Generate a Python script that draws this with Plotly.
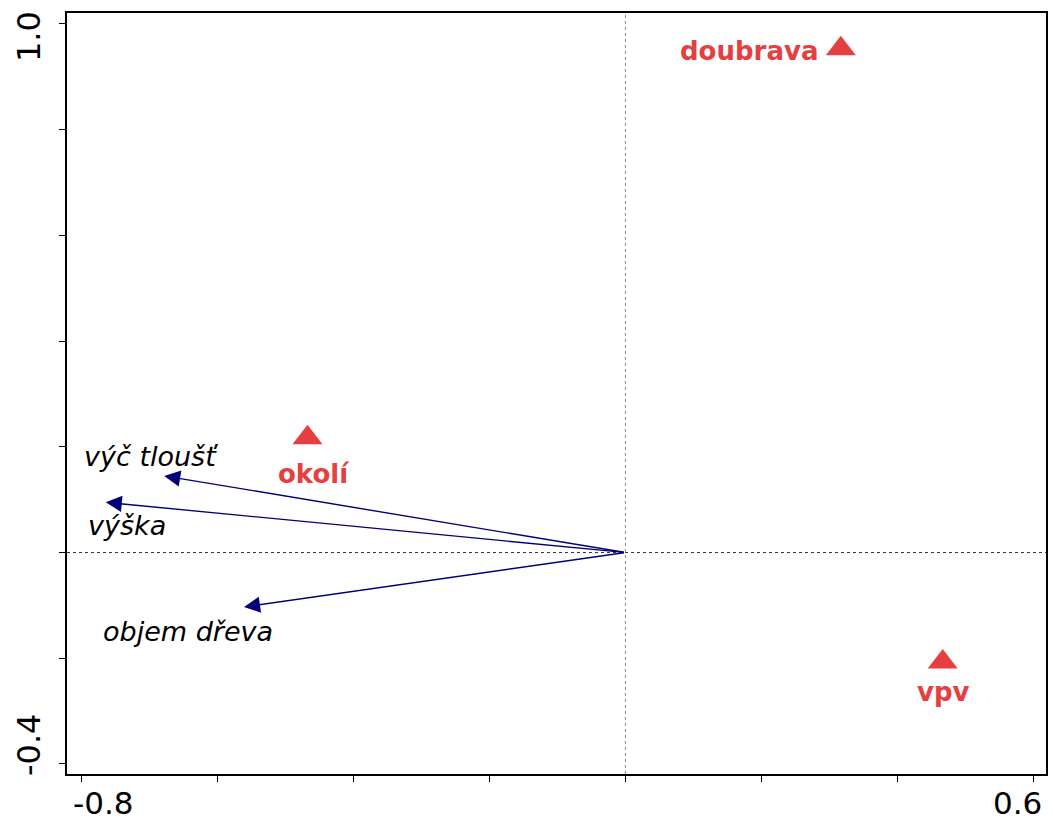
import plotly.graph_objects as go

# Sample scores (centroids of sites)
site_names = ["doubrava", "okolí", "vpv"]
site_x = [0.317, -0.468, 0.467]
site_y = [0.953, 0.217, -0.207]

# Environmental variable arrows (tips; all start at origin)
var_names = ["výč tloušť", "výška", "objem dřeva"]
var_x = [-0.679, -0.765, -0.5615]
var_y = [0.145, 0.095, -0.103]

x_ticks = [-0.8, -0.6, -0.4, -0.2, 0.0, 0.2, 0.4, 0.6]
y_ticks = [-0.4, -0.2, 0.0, 0.2, 0.4, 0.6, 0.8, 1.0]
# only the axis end values are labelled
x_end_labels = {-0.8: ("-0.8", 22), 0.6: ("0.6", -16)}
y_end_labels = {1.0: ("1.0", -13), -0.4: ("-0.4", 19)}

RED = "#E5403F"
NAVY = "#00007A"
FONT = "DejaVu Sans, Arial"

fig = go.Figure()

fig.add_trace(go.Scatter(
    x=site_x, y=site_y, mode="markers",
    marker=dict(symbol="triangle-up", size=26, color=RED, line=dict(width=0)),
    hoverinfo="text", text=site_names, showlegend=False,
))

annotations = []
# arrows from origin
for name, vx, vy in zip(var_names, var_x, var_y):
    annotations.append(dict(
        x=vx, y=vy, ax=0, ay=0, xref="x", yref="y", axref="x", ayref="y",
        showarrow=True, arrowhead=2, arrowsize=2.3, arrowwidth=1.4,
        arrowcolor=NAVY, text="",
    ))

# variable labels (offsets in pixels from the arrow tips)
var_label_shift = {
    "výč tloušť": (-82, 19, "left"),
    "výška": (-20, -23, "left"),
    "objem dřeva": (-143, -25, "left"),
}
for name, vx, vy in zip(var_names, var_x, var_y):
    dx, dy, anchor = var_label_shift[name]
    annotations.append(dict(
        x=vx, y=vy, xref="x", yref="y", text="<i>" + name + "</i>",
        showarrow=False, xanchor=anchor, yanchor="middle",
        xshift=dx, yshift=dy,
        font=dict(family=FONT, size=27, color="black"),
    ))

# site labels
site_label_shift = {
    "doubrava": (-21, -2, "right"),
    "okolí": (6, -36, "center"),
    "vpv": (1, -30, "center"),
}
for name, sx, sy in zip(site_names, site_x, site_y):
    dx, dy, anchor = site_label_shift[name]
    annotations.append(dict(
        x=sx, y=sy, xref="x", yref="y", text="<b>" + name + "</b>",
        showarrow=False, xanchor=anchor, yanchor="middle",
        xshift=dx, yshift=dy,
        font=dict(family=FONT, size=26, color=RED),
    ))

# axis end labels, nudged inward so they stay on the page
for xv, (txt, dx) in x_end_labels.items():
    annotations.append(dict(
        x=xv, y=0, xref="x", yref="paper", text=txt, showarrow=False,
        xanchor="center", yanchor="middle", xshift=dx, yshift=-29,
        font=dict(family=FONT, size=31, color="black"),
    ))
for yv, (txt, dy) in y_end_labels.items():
    annotations.append(dict(
        x=0, y=yv, xref="paper", yref="y", text=txt, showarrow=False,
        xanchor="center", yanchor="middle", xshift=-38, yshift=dy,
        textangle=-90,
        font=dict(family=FONT, size=32, color="black"),
    ))

fig.update_layout(
    width=1052, height=821,
    margin=dict(l=67, r=6, t=13, b=47, autoexpand=False),
    plot_bgcolor="white", paper_bgcolor="white",
    annotations=annotations,
    shapes=[
        dict(type="line", xref="x", yref="paper", x0=0, x1=0, y0=0, y1=1,
             line=dict(color="#888888", width=1, dash="dot"), layer="below"),
        dict(type="line", xref="paper", yref="y", x0=0, x1=1, y0=0, y1=0,
             line=dict(color="#333333", width=1, dash="dot"), layer="below"),
    ],
)

fig.update_xaxes(
    range=[-0.822, 0.619], tickvals=x_ticks, showticklabels=False,
    showgrid=False, zeroline=False, showline=True, mirror=True,
    linecolor="black", linewidth=2, ticks="outside", ticklen=6,
    tickwidth=1, tickcolor="black", automargin=False,
)
fig.update_yaxes(
    range=[-0.419, 1.0208], tickvals=y_ticks, showticklabels=False,
    showgrid=False, zeroline=False, showline=True, mirror=True,
    linecolor="black", linewidth=2, ticks="outside", ticklen=6,
    tickwidth=1, tickcolor="black", automargin=False,
)

fig.write_html("out.html")
